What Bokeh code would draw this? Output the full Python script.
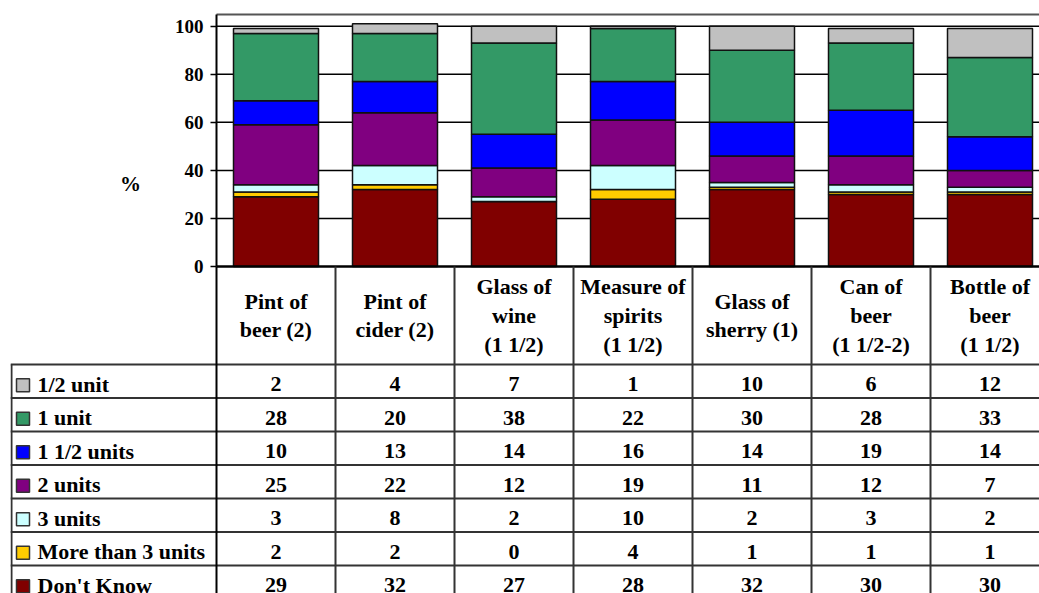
from bokeh.plotting import figure
from bokeh.models import ColumnDataSource, Range1d, FixedTicker, Label
from bokeh.embed import file_html
from bokeh.resources import INLINE
from bokeh.core.properties import value

# ---------------- data ----------------
categories = ["Pint of\nbeer (2)", "Pint of\ncider (2)", "Glass of\nwine\n(1 1/2)",
              "Measure of\nspirits\n(1 1/2)", "Glass of\nsherry (1)",
              "Can of\nbeer\n(1 1/2-2)", "Bottle of\nbeer\n(1 1/2)"]
series_names = ["1/2 unit", "1 unit", "1 1/2 units", "2 units", "3 units",
                "More than 3 units", "Don't Know"]
half_unit = [2, 4, 7, 1, 10, 6, 12]
one_unit = [28, 20, 38, 22, 30, 28, 33]
one_half_units = [10, 13, 14, 16, 14, 19, 14]
two_units = [25, 22, 12, 19, 11, 12, 7]
three_units = [3, 8, 2, 10, 2, 3, 2]
more_than_3 = [2, 2, 0, 4, 1, 1, 1]
dont_know = [29, 32, 27, 28, 32, 30, 30]
y_ticks = [0, 20, 40, 60, 80, 100]

series_values = [half_unit, one_unit, one_half_units, two_units, three_units,
                 more_than_3, dont_know]
colors = ["#C0C0C0", "#339966", "#0000FF", "#800080", "#CCFFFF", "#FFCC00", "#800000"]

# ---------------- layout constants ----------------
FONT = "Liberation Serif"
W, HGT = 1039, 593
CAT_PX = 119.0            # pixel width of one category column
FRAME_LEFT = 10           # left edge of table (figure frame)
AXIS_PX = 216             # x pixel of the value axis
BASE_PX = 266             # y pixel of the 0 % line / top of table
FRAME_TOP = 12
PLOT_TOP_PX = 14
PX_PER_PCT = 2.403
ROW_PX = 33.5
HEADER_PX = 98.0
LINE_COL = "#333333"

n = len(categories)
xs = [i + 0.5 for i in range(n)]
x0 = -(AXIS_PX - FRAME_LEFT) / CAT_PX
x_end = (W - AXIS_PX) / CAT_PX
top_val = (BASE_PX - PLOT_TOP_PX) / PX_PER_PCT

p = figure(width=W, height=HGT, output_backend="svg", toolbar_location=None,
           x_range=Range1d(x0, x_end),
           y_range=Range1d(-(HGT - BASE_PX) / PX_PER_PCT, (BASE_PX - FRAME_TOP) / PX_PER_PCT),
           x_axis_location=None, y_axis_location="left",
           min_border_left=FRAME_LEFT, min_border_right=0, min_border_top=FRAME_TOP,
           min_border_bottom=0, background_fill_color="white",
           border_fill_color="white")
p.extra_y_ranges = {"tab": Range1d((HGT - BASE_PX) / ROW_PX, -(BASE_PX - FRAME_TOP) / ROW_PX)}
p.outline_line_color = None
p.xgrid.grid_line_color = None
p.ygrid.grid_line_color = None

# ---------------- chart ----------------
gy = [float(v) for v in y_ticks[1:]]
p.segment(x0=[0] * len(gy), y0=gy, x1=[n + 1] * len(gy), y1=gy,
          line_color="black", line_width=1.5)
p.segment(x0=[0], y0=[top_val], x1=[n + 1], y1=[top_val],
          line_color="#555555", line_width=2)

stack_keys = ["dk", "m3", "u3", "u2", "u15", "u1", "uh"]
stack_vals = [dont_know, more_than_3, three_units, two_units, one_half_units,
              one_unit, half_unit]
stack_cols = list(reversed(colors))
src = ColumnDataSource(dict(x=xs, **{k: v for k, v in zip(stack_keys, stack_vals)}))
p.vbar_stack(stack_keys, x="x", width=85 / CAT_PX, source=src,
             fill_color=stack_cols, line_color="#111111", line_width=1.5)

p.segment(x0=[0], y0=[0], x1=[n + 1], y1=[0], line_color="black", line_width=2.5)

ax = p.yaxis[0]
ax.fixed_location = 0
ax.bounds = (0, top_val)
ax.ticker = FixedTicker(ticks=y_ticks)
ax.minor_tick_line_color = None
ax.major_tick_in = 0
ax.major_tick_out = 6
ax.major_tick_line_width = 1.5
ax.major_tick_line_color = "black"
ax.axis_line_width = 2
ax.axis_line_color = "black"
ax.major_label_standoff = 7
ax.major_label_text_font = FONT
ax.major_label_text_font_style = "bold"
ax.major_label_text_font_size = "19px"
ax.major_label_text_color = "black"

p.add_layout(Label(x=-(AXIS_PX - 130) / CAT_PX, y=34.4, text="%",
                   text_font=FONT, text_font_style="bold", text_font_size="21px",
                   text_align="center", text_baseline="middle", text_color="black"))

# ---------------- data table ----------------
H = HEADER_PX / ROW_PX
nrows = len(series_names)
bottom = (HGT - BASE_PX) / ROW_PX + 1

hx0, hx1, hy = [], [], []
for k in range(nrows + 1):
    hx0.append(x0)
    hx1.append(n + 1)
    hy.append(H + k)
p.segment(x0=hx0, y0=hy, x1=hx1, y1=hy, line_color=LINE_COL, line_width=2,
          y_range_name="tab")
vx = [float(i) for i in range(1, n + 1)] + [x0 + 1 / CAT_PX]
vy0 = [0.0] * n + [H]
vy1 = [bottom] * (n + 1)
p.segment(x0=vx, y0=vy0, x1=vx, y1=vy1, line_color=LINE_COL, line_width=2,
          y_range_name="tab")
# value axis line continued down through the table
p.segment(x0=[0], y0=[0], x1=[0], y1=[bottom], line_color="black", line_width=2,
          y_range_name="tab")

# header labels
p.text(x=xs, y=[H / 2] * n, text=categories, text_font=value(FONT),
       text_font_style="bold", text_font_size="22px", text_align="center",
       text_baseline="middle", text_line_height=1.15, text_color="black",
       y_range_name="tab")

# values
vxs, vys, vts = [], [], []
for r, vals in enumerate(series_values):
    for i, v in enumerate(vals):
        vxs.append(xs[i])
        vys.append(H + r + 0.5)
        vts.append(str(v))
p.text(x=vxs, y=vys, text=vts, y_offset=3, text_font=value(FONT),
       text_font_style="bold", text_font_size="22px", text_align="center",
       text_baseline="middle", text_color="black", y_range_name="tab")

# legend keys + row labels
row_y = [H + r + 0.5 for r in range(nrows)]
p.scatter(x=[x0 + 12.5 / CAT_PX] * nrows, y=[yy + 4 / ROW_PX for yy in row_y],
          marker="square", size=13, fill_color=colors, line_color="#333333",
          line_width=1.5, y_range_name="tab")
p.text(x=[x0] * nrows, y=row_y, text=series_names, x_offset=27, y_offset=3,
       text_font=value(FONT), text_font_style="bold", text_font_size="22px",
       text_align="left", text_baseline="middle", text_color="black",
       y_range_name="tab")

open("out.html", "w").write(file_html(p, INLINE))
